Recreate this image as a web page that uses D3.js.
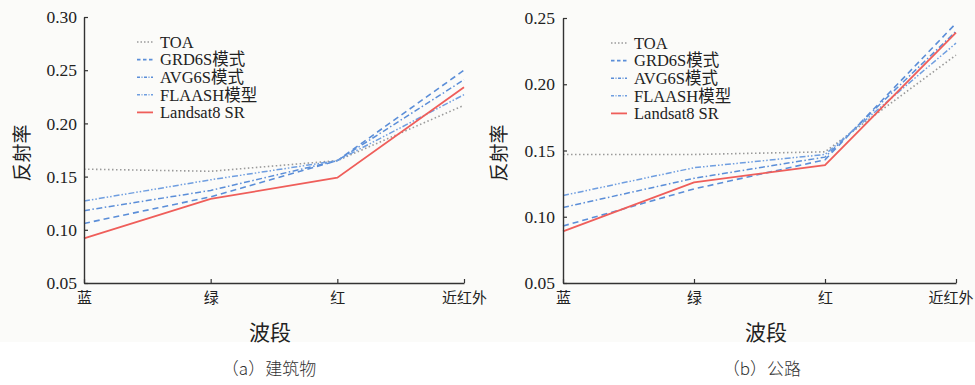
<!DOCTYPE html>
<html>
<head>
<meta charset="utf-8">
<script src="https://cdn.jsdelivr.net/npm/d3@7"></script>
<style>
  body { margin: 0; background: #fff; }
  svg { display: block; }
  .serif { font-family: "Liberation Serif", "Noto Sans CJK SC", serif; }
  .cjk { font-family: "Noto Sans CJK SC", sans-serif; }
</style>
</head>
<body>
<svg id="chart" width="975" height="385"></svg>
<script>
// wave bands and legend names
var bands = ['蓝', '绿', '红', '近红外'];
var seriesNames = ['TOA', 'GRD6S模式', 'AVG6S模式', 'FLAASH模型', 'Landsat8 SR'];

// (a) buildings
var bldTOA    = [0.157, 0.155, 0.165, 0.217];
var bldGRD    = [0.106, 0.131, 0.165, 0.250];
var bldAVG    = [0.118, 0.137, 0.165, 0.241];
var bldFLAASH = [0.127, 0.147, 0.165, 0.227];
var bldSR     = [0.092, 0.129, 0.149, 0.234];
var bldTicks  = [0.05, 0.10, 0.15, 0.20, 0.25, 0.30];

// (b) roads
var roadTOA    = [0.147, 0.147, 0.149, 0.222];
var roadGRD    = [0.093, 0.121, 0.143, 0.246];
var roadAVG    = [0.107, 0.129, 0.145, 0.240];
var roadFLAASH = [0.116, 0.137, 0.147, 0.231];
var roadSR     = [0.089, 0.126, 0.139, 0.239];
var roadTicks  = [0.05, 0.10, 0.15, 0.20, 0.25];

var styles = [
  { color: '#9a9a9a', dash: '1.5,2.5', w: 1.6 },
  { color: '#5b8ed8', dash: '6,4', w: 1.6 },
  { color: '#5b8ed8', dash: '6,2.5,1.5,2.5', w: 1.5 },
  { color: '#6f9ee0', dash: '6,2,1.5,2,1.5,2', w: 1.5 },
  { color: '#ef5e5a', dash: null, w: 1.8 }
];

var svg = d3.select('#chart');
svg.append('rect').attr('x', 0).attr('y', 0).attr('width', 975).attr('height', 342).attr('fill', '#fbfbf9');

function panel(opt) {
  var x = d3.scalePoint().domain(bands).range([opt.x0, opt.x1]);
  var y = d3.scaleLinear().domain([0.05, opt.ymax]).range([283, opt.ytop]);
  var g = svg.append('g');

  var lines = d3.line().x(function(d, i) { return x(bands[i]); }).y(function(d) { return y(d); });
  opt.series.forEach(function(s, k) {
    var st = styles[k];
    g.append('path').datum(s)
      .attr('d', lines)
      .attr('fill', 'none')
      .attr('stroke', st.color)
      .attr('stroke-width', st.w)
      .attr('stroke-dasharray', st.dash);
  });

  var ya = g.append('g').attr('transform', 'translate(' + opt.x0 + ',0)')
    .call(d3.axisLeft(y).tickValues(opt.ticks).tickFormat(d3.format('.2f'))
      .tickSizeInner(-4).tickSizeOuter(0).tickPadding(opt.ypad));
  ya.selectAll('text').attr('class', 'serif').style('font-size', '17.5px').attr('fill', '#222');

  var xa = g.append('g').attr('transform', 'translate(0,283)')
    .call(d3.axisBottom(x).tickSizeInner(-4).tickSizeOuter(0).tickPadding(9));
  xa.selectAll('text').attr('class', 'cjk').style('font-size', '15px').attr('fill', '#222');
  // keep the last band name inside the page on the right panel
  if (opt.x1 + 24 > 975) {
    xa.selectAll('.tick').filter(function(d) { return d == bands[bands.length - 1]; })
      .select('text').attr('text-anchor', 'end').attr('x', 973 - opt.x1);
  }

  [ya, xa].forEach(function(a) {
    a.select('.domain').attr('stroke', '#333').attr('stroke-width', 1.4);
    a.selectAll('.tick line').attr('stroke', '#333').attr('stroke-width', 1.2);
  });

  // legend
  seriesNames.forEach(function(n, k) {
    var st = styles[k];
    var ly = opt.legY + k * 17.6;
    g.append('line').attr('x1', opt.legX).attr('x2', opt.legX + 16)
      .attr('y1', ly).attr('y2', ly)
      .attr('stroke', st.color).attr('stroke-width', st.w)
      .attr('stroke-dasharray', k == 4 ? null : (k == 0 ? '1.5,2' : (k == 1 ? '3.5,2.5' : '3,1.5,1,1.5')));
    g.append('text').attr('class', 'serif').attr('x', opt.legX + 23).attr('y', ly).attr('dy', '0.35em')
      .style('font-size', '16.5px').attr('fill', '#222').text(n);
  });

  g.append('text').attr('class', 'cjk')
    .attr('transform', 'translate(' + opt.ylabX + ',153) rotate(-90)')
    .attr('text-anchor', 'middle').attr('dy', '0.35em')
    .style('font-size', '19px').attr('fill', '#222').text('反射率');

  g.append('text').attr('class', 'cjk').attr('x', opt.midX).attr('y', 333).attr('dy', '0.35em')
    .attr('text-anchor', 'middle').style('font-size', '21px').attr('fill', '#222').text('波段');

  g.append('text').attr('class', 'cjk').attr('x', opt.capX).attr('y', 369).attr('dy', '0.35em')
    .attr('text-anchor', 'middle').style('font-size', '17px').style('font-weight', 300)
    .attr('fill', '#333').text(opt.caption);
}

panel({
  x0: 84, x1: 464, ymax: 0.30, ytop: 17, ticks: bldTicks, ypad: 7,
  series: [bldTOA, bldGRD, bldAVG, bldFLAASH, bldSR],
  legX: 137, legY: 42, ylabX: 22, midX: 270, capX: 269, caption: '（a）建筑物'
});

panel({
  x0: 563, x1: 956, ymax: 0.25, ytop: 18, ticks: roadTicks, ypad: 8,
  series: [roadTOA, roadGRD, roadAVG, roadFLAASH, roadSR],
  legX: 611, legY: 43, ylabX: 499, midX: 766, capX: 762, caption: '（b）公路'
});
</script>
</body>
</html>
